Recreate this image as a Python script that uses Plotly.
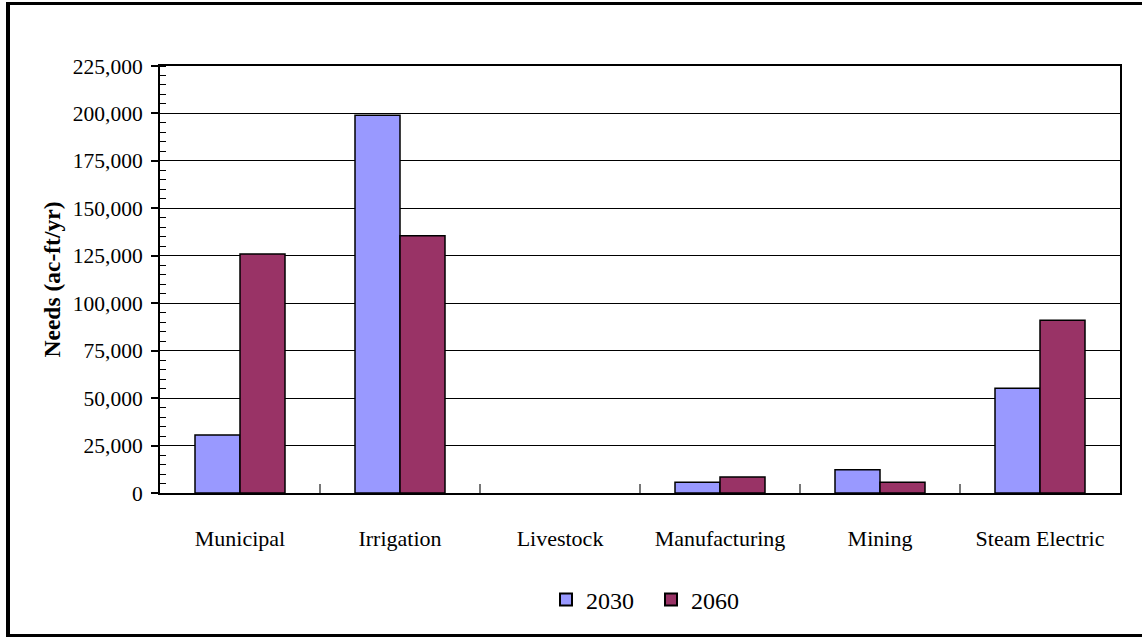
import plotly.graph_objects as go

categories = ["Municipal", "Irrigation", "Livestock", "Manufacturing", "Mining", "Steam Electric"]
needs_2030 = [30600, 199000, 0, 5600, 12300, 55200]
needs_2060 = [126000, 135600, 0, 8400, 5600, 91000]
y_ticks = [0, 25000, 50000, 75000, 100000, 125000, 150000, 175000, 200000, 225000]

W, H = 1142, 637
L, R, T, B = 160, 22, 66, 144
pw, ph = W - L - R, H - T - B

def px_x(x):
    return (x - L) / pw

def px_y(y):
    return (H - B - y) / ph

FONT = "Liberation Serif"

def outline(vals):
    return [1.5 if v > 0 else 0 for v in vals]

fig = go.Figure()
fig.add_trace(go.Bar(name="2030", x=categories, y=needs_2030,
                     marker=dict(color="#9999FF", line=dict(color="black", width=outline(needs_2030)))))
fig.add_trace(go.Bar(name="2060", x=categories, y=needs_2060,
                     marker=dict(color="#993366", line=dict(color="black", width=outline(needs_2060)))))

shapes = []
# outer chart frame
frame = [
    (8, 2, 8, 637, 4),
    (6, 3.5, 1142, 3.5, 3),
    (6, 635.5, 1142, 635.5, 3),
]
for x0, y0, x1, y1, w in frame:
    shapes.append(dict(type="line", xref="paper", yref="paper",
                       x0=px_x(x0), y0=px_y(y0), x1=px_x(x1), y1=px_y(y1),
                       line=dict(color="black", width=w), layer="above"))

fig.update_layout(
    width=W, height=H,
    margin=dict(l=L, r=R, t=T, b=B, autoexpand=False),
    paper_bgcolor="white", plot_bgcolor="white",
    barmode="group", bargap=0.4375, bargroupgap=0,
    font=dict(family=FONT, size=21, color="black"),
    showlegend=True,
    legend=dict(orientation="h", x=px_x(651), xanchor="center", y=px_y(600), yanchor="middle",
                font=dict(family=FONT, size=24, color="black"),
                itemwidth=30, itemsizing="constant", bgcolor="rgba(0,0,0,0)",
                entrywidth=60, entrywidthmode="pixels"),
    shapes=shapes,
)

fig.update_xaxes(
    type="category", showgrid=False,
    showline=True, linecolor="black", linewidth=2, mirror=True,
    ticks="inside", tickson="boundaries", ticklen=9, tickcolor="#777777", tickwidth=1.5,
    tickfont=dict(family=FONT, size=22, color="black"),
    ticklabelstandoff=25,
)
fig.update_yaxes(
    range=[0, 225000], tickvals=y_ticks, tickformat=",d",
    showgrid=True, gridcolor="black", gridwidth=1.3,
    showline=True, linecolor="black", linewidth=2, mirror=True,
    ticks="outside", ticklen=7, tickcolor="black", tickwidth=1.5,
    minor=dict(dtick=5000, ticks="inside", ticklen=6, tickcolor="black", tickwidth=1.2, showgrid=False),
    tickfont=dict(family=FONT, size=21.5, color="black"),
    ticklabelstandoff=4,
    title=dict(text="<b>Needs (ac-ft/yr)</b>", font=dict(family=FONT, size=23.5, color="black"), standoff=6),
    zeroline=False,
)

fig.write_html("out.html")
